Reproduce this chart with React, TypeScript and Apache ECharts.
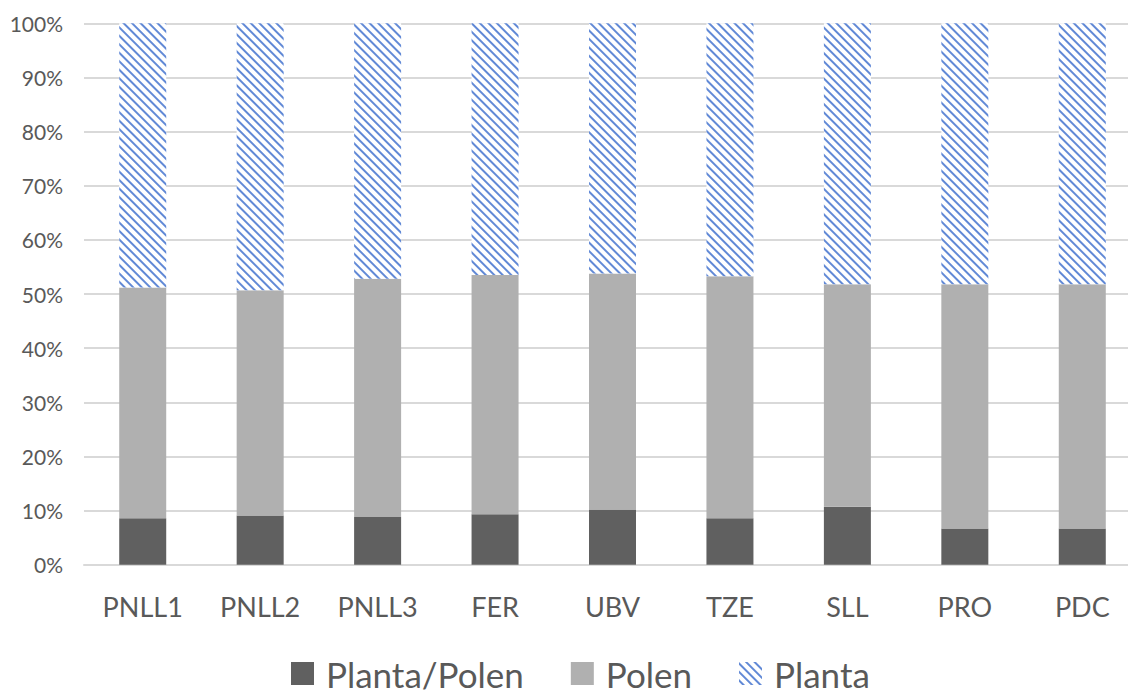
import React, { useEffect, useRef } from "react";
import * as echarts from "echarts";

// Sites sampled
const categories = ["PNLL1", "PNLL2", "PNLL3", "FER", "UBV", "TZE", "SLL", "PRO", "PDC"];

// Share of each source per site (%), stacked to 100
const plantaPolen = [8.6, 9.1, 8.8, 9.3, 10.2, 8.6, 10.7, 6.7, 6.7];
const polen = [42.6, 41.6, 44.0, 44.2, 43.6, 44.7, 41.1, 45.1, 45.1];
const planta = [48.8, 49.3, 47.2, 46.5, 46.2, 46.7, 48.2, 48.2, 48.2];

const FONT = "Lato, 'Open Sans', 'Noto Sans', sans-serif";
const TEXT = "#595959";
const GRID = "#d9d9d9";

export default function App() {
  const ref = useRef<HTMLDivElement>(null);

  useEffect(() => {
    if (!ref.current) return;
    const chart = echarts.init(ref.current, null, { renderer: "svg" });
    chart.setOption({
      animation: false,
      backgroundColor: "#ffffff",
      textStyle: { fontFamily: FONT },
      // plot area runs slightly past the right edge of the visible frame
      grid: { left: 84, top: 23.3, width: 1057, height: 541.4 },
      legend: {
        left: 286,
        top: 651,
        itemWidth: 23,
        itemHeight: 23,
        itemGap: 47,
        icon: "rect",
        textStyle: {
          fontSize: 35,
          lineHeight: 35,
          color: TEXT,
          fontFamily: FONT,
          padding: [0, 0, 0, 7],
        },
        data: ["Planta/Polen", "Polen", "Planta"],
      },
      xAxis: {
        type: "category",
        data: categories,
        axisLine: { lineStyle: { color: GRID, width: 2 } },
        axisTick: { show: false },
        axisLabel: { fontSize: 27, color: TEXT, margin: 28, fontFamily: FONT },
      },
      yAxis: {
        type: "value",
        min: 0,
        max: 100,
        interval: 10,
        axisLine: { show: false },
        axisTick: { show: false },
        splitLine: { lineStyle: { color: GRID, width: 2 } },
        axisLabel: { formatter: "{value}%", fontSize: 21, color: TEXT, margin: 21, fontFamily: FONT },
      },
      series: [
        {
          name: "Planta/Polen",
          type: "bar",
          stack: "total",
          barWidth: 47,
          data: plantaPolen,
          itemStyle: { color: "#606060" },
        },
        {
          name: "Polen",
          type: "bar",
          stack: "total",
          barWidth: 47,
          data: polen,
          itemStyle: { color: "#b0b0b0" },
        },
        {
          name: "Planta",
          type: "bar",
          stack: "total",
          barWidth: 47,
          data: planta,
          itemStyle: {
            color: "#ffffff",
            decal: {
              symbol: "rect",
              symbolSize: 1,
              color: "#6189d6",
              dashArrayX: [1, 0],
              dashArrayY: [2, 4],
              rotation: Math.PI / 4,
            },
          },
        },
      ],
    });
    return () => chart.dispose();
  }, []);

  return (
    <div
      style={{
        position: "absolute",
        left: 0,
        top: 0,
        width: 1128,
        height: 694,
        overflow: "hidden",
      }}
    >
      <div ref={ref} style={{ width: 1160, height: 694 }} />
    </div>
  );
}
